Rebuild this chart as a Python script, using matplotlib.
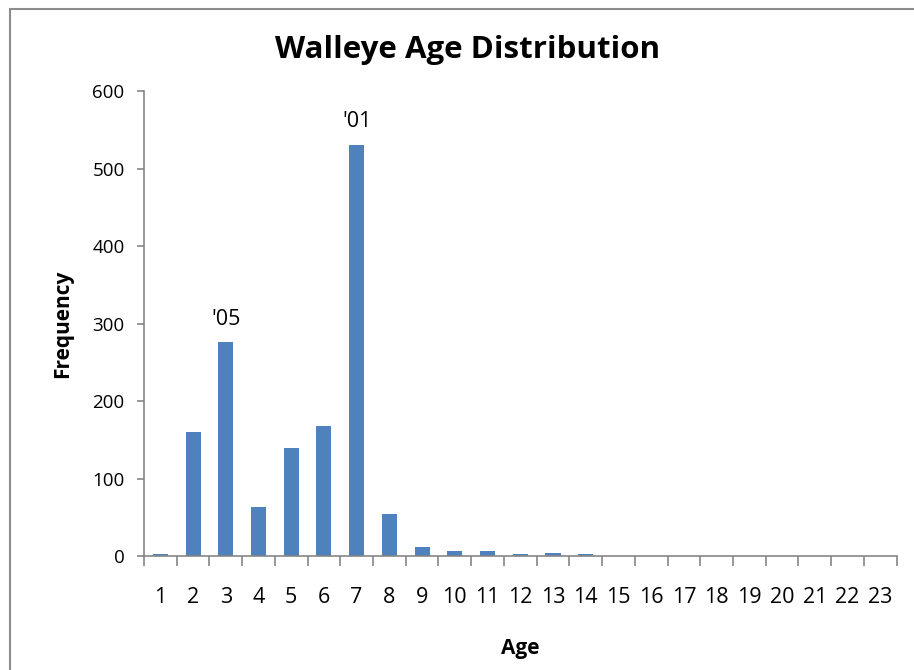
import matplotlib
matplotlib.use("Agg")
import matplotlib.pyplot as plt
from matplotlib.patches import Rectangle

ages = list(range(1, 24))
frequency = [2, 160, 276, 63, 140, 168, 531, 54, 12, 6, 6, 2, 4, 2,
             0, 0, 0, 0, 0, 0, 0, 0, 0]
note_ages = [3, 7]
note_texts = ["'05", "'01"]

plt.rcParams['font.family'] = ['Open Sans', 'DejaVu Sans']

fig = plt.figure(figsize=(9.14, 6.70), dpi=100)
ax = fig.add_axes([0.1575, 0.1701, 0.8235, 0.6940])

ax.bar(ages, frequency, width=0.46, color='#4F81BD')

for a, t in zip(note_ages, note_texts):
    ax.annotate(t, (a, frequency[a - 1]), xytext=(0, 9), textcoords='offset points',
                ha='center', va='bottom', fontsize=15.5)

ax.set_xlim(0.5, 23.5)
ax.set_ylim(0, 600)
ax.set_yticks(range(0, 601, 100))
ax.set_xticks(ages)
ax.set_xticklabels([str(a) for a in ages])
ax.set_xticks([a + 0.5 for a in range(0, 24)], minor=True)

gray = '#868686'
for side in ['top', 'right']:
    ax.spines[side].set_visible(False)
for side in ['left', 'bottom']:
    ax.spines[side].set_color(gray)
    ax.spines[side].set_linewidth(1.2)

ax.tick_params(axis='x', which='major', length=0, labelsize=15.5, pad=22)
ax.tick_params(axis='x', which='minor', length=7, color=gray, width=1.2)
ax.tick_params(axis='y', length=5, color=gray, width=1.2, labelsize=13.5, pad=9)

ax.set_xlabel('Age', fontsize=15, fontweight='bold', labelpad=22)
ax.set_ylabel('Frequency', fontsize=15, fontweight='bold', labelpad=14)
fig.suptitle('Walleye Age Distribution', fontsize=22.5, fontweight='bold', x=0.512, y=0.948)

# outer chart frame (only left and top edges visible in the crop)
fig.patches.append(Rectangle((10 / 914, -0.2), 1.5, 1.2 - 9 / 670, transform=fig.transFigure,
                             fill=False, edgecolor='#8c8c8c', linewidth=1.5))

fig.savefig('out.png', dpi=100)
